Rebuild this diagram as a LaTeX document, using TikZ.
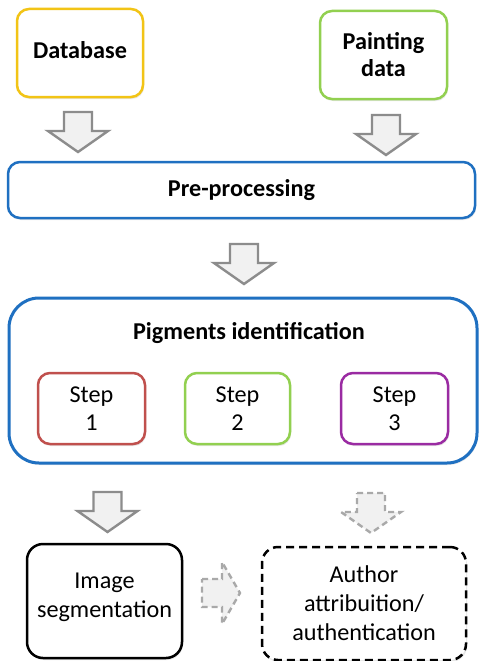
\documentclass[tikz,border=0pt]{standalone}
\usepackage{fontspec}
\setmainfont{Carlito}
\usetikzlibrary{shadows}
\definecolor{boxyellow}{HTML}{F2C416}
\definecolor{boxgreen}{HTML}{92D050}
\definecolor{boxblue}{HTML}{1F70C1}
\definecolor{boxred}{HTML}{C0504D}
\definecolor{boxpurple}{HTML}{9A2BA2}
\definecolor{arrline}{HTML}{8C8C8C}
\definecolor{arrfill}{HTML}{F1F1F1}
\tikzset{
  txt/.style={font=\fontsize{24.2}{29}\selectfont, align=center},
  box/.style={txt, draw, rectangle, rounded corners=12pt, line width=2.5pt, fill=white,
    drop shadow={opacity=0.18, shadow xshift=1pt, shadow yshift=-2pt}},
  dashbox/.style={box, dash pattern=on 8pt off 5pt},
  arrowshape/.style={draw=arrline, fill=arrfill, line width=2.4pt, line join=miter},
  dasharrow/.style={draw=arrline!75, fill=arrfill, line width=2.4pt, dash pattern=on 6pt off 4pt},
  downarr/.pic={\path[pic actions] (-14,0) -- (14,0) -- (14,19) -- (30,19) -- (0,40) -- (-30,19) -- (-14,19) -- cycle;},
  rightarr/.pic={\path[pic actions] (0,-14) -- (20,-14) -- (20,-31) -- (38,0) -- (20,31) -- (20,14) -- (0,14) -- cycle;}
}
\begin{document}
\begin{tikzpicture}[x=1pt,y=-1pt]
\useasboundingbox[fill=white] (0,0) rectangle (480,661);
% top boxes
\node[box, draw=boxyellow, minimum width=126pt, minimum height=88pt] (db) at (80,53) {};
\node[txt, font=\fontsize{24.2}{29}\selectfont\bfseries] (dbt) at (80,50) {Database};
\node[box, draw=boxgreen, minimum width=127pt, minimum height=88pt] (pd) at (383.5,55) {\bfseries Painting\\[-2pt]\bfseries data};
\node[box, draw=boxblue, minimum width=467pt, minimum height=56pt] (pre) at (241.5,190) {\bfseries Pre-processing};
% pigments
\node[box, draw=boxblue, rounded corners=30pt, line width=3pt, minimum width=468pt, minimum height=165pt] (pig) at (243,380.5) {};
\node[txt, font=\fontsize{24.2}{29}\selectfont\bfseries] (pigt) at (249,333) {Pigments identification};
\node[box, draw=boxred, minimum width=107pt, minimum height=71pt] (s1) at (91.5,408.5) {Step\\[-1pt]1};
\node[box, draw=boxgreen, minimum width=105pt, minimum height=71pt] (s2) at (237.5,408.5) {Step\\[-1pt]2};
\node[box, draw=boxpurple, minimum width=107pt, minimum height=71pt] (s3) at (394.5,408.5) {Step\\[-1pt]3};
% bottom boxes
\node[box, draw=black, rounded corners=16pt, minimum width=155pt, minimum height=114pt] (seg) at (104.5,601) {};
\node[txt] (segt) at (104.5,597) {Image\\segmentation};
\node[dashbox, draw=black, rounded corners=16pt, minimum width=204pt, minimum height=113pt] (auth) at (364,603.5) {Author\\attribuition/\\authentication};
% arrows
\pic[arrowshape] at (78,112) {downarr};
\pic[arrowshape] at (386,115) {downarr};
\pic[arrowshape] at (244,244) {downarr};
\pic[arrowshape] at (107.5,492) {downarr};
\pic[dasharrow] at (371,493) {downarr};
\pic[dasharrow] at (202,593) {rightarr};
\end{tikzpicture}
\end{document}
